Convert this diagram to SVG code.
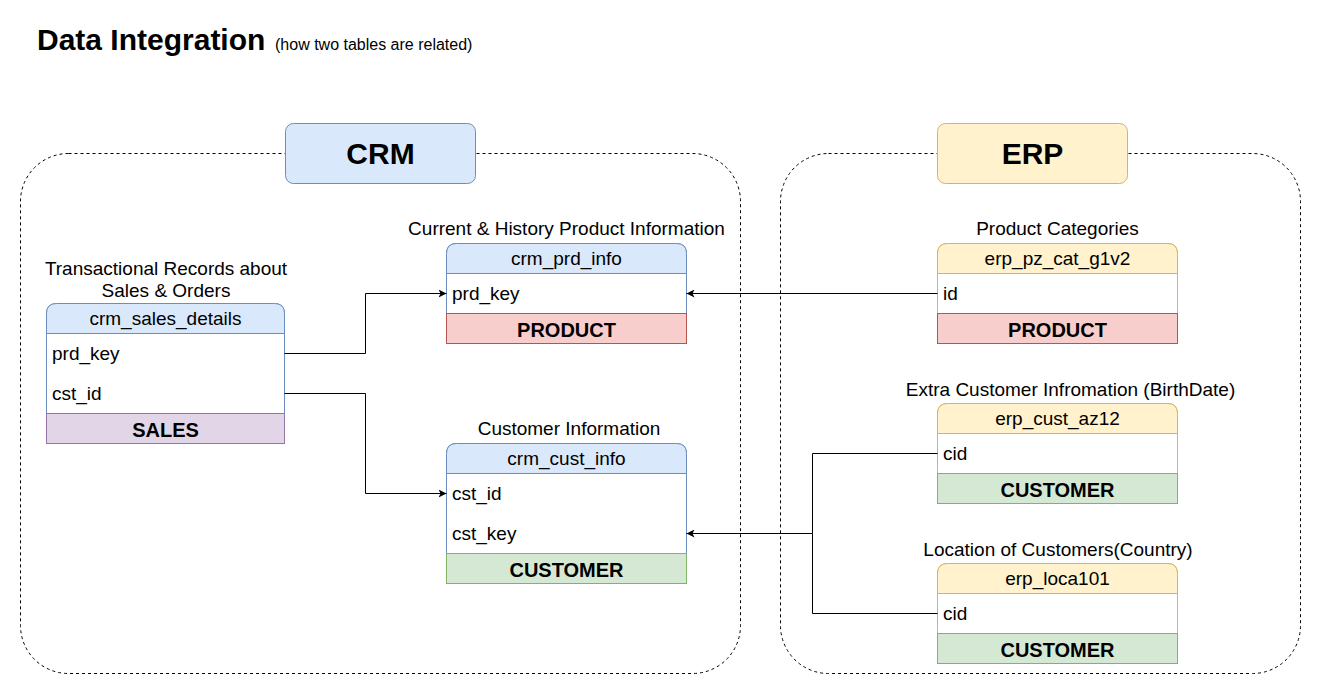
<svg xmlns="http://www.w3.org/2000/svg" width="1322" height="694" viewBox="0 0 1322 694">
<defs>
<style>
text{font-family:"Liberation Sans",Arial,Helvetica,sans-serif;fill:#000}
.t{font-size:19px}
.c{text-anchor:middle}
.f{font-size:20px;font-weight:bold;text-anchor:middle}
.big{font-size:30px;font-weight:bold;text-anchor:middle}
.cont{fill:none;stroke:#000;stroke-width:1;stroke-dasharray:3 3}
.body{fill:#fff}
.bl{stroke:#6c8ebf}
.bh{fill:#dae8fc;stroke:#6c8ebf}
.yl{stroke:#d6b656}
.yh{fill:#fff2cc;stroke:#d6b656}
.red{fill:#f8cecc;stroke:#b85450}
.grn{fill:#d5e8d4;stroke:#82b366}
.pur{fill:#e1d5e7;stroke:#9673a6}
.edge{fill:none;stroke:#000;stroke-width:1;marker-end:url(#arr)}
.line{fill:none;stroke:#000;stroke-width:1}
</style>
<marker id="arr" viewBox="0 0 8 8" markerWidth="8" markerHeight="8" refX="8" refY="4" orient="auto" markerUnits="userSpaceOnUse">
<path d="M0,0 L8,4 L0,8 L2,4 Z" fill="#000"/>
</marker>
</defs>
<rect width="1322" height="694" fill="#fff"/>

<g id="title">
<text x="37" y="50" style="font-size:30px;font-weight:bold">Data Integration</text>
<text x="275" y="50" style="font-size:16px">(how two tables are related)</text>
</g>

<g id="crm-container">
<rect class="cont" x="20.5" y="153.5" width="720" height="520" rx="48" ry="48"/>
</g>
<g id="erp-container">
<rect class="cont" x="780.5" y="153.5" width="520" height="520" rx="48" ry="48"/>
</g>

<g id="crm-label">
<rect x="285.5" y="123.5" width="190" height="60" rx="8" ry="8" class="bh"/>
<text x="380.5" y="164" class="big">CRM</text>
</g>
<g id="erp-label">
<rect x="937.5" y="123.5" width="190" height="60" rx="8" ry="8" class="yh"/>
<text x="1032.5" y="164" class="big">ERP</text>
</g>

<g id="crm_sales_details">
<text x="166" y="275" class="t c">Transactional Records about</text>
<text x="166" y="297" class="t c">Sales &amp; Orders</text>
<path d="M46.5,413.5 V313.5 Q46.5,303.5 56.5,303.5 H274.5 Q284.5,303.5 284.5,313.5 V413.5 Z" class="body bl"/>
<path d="M46.5,333.5 V313.5 Q46.5,303.5 56.5,303.5 H274.5 Q284.5,303.5 284.5,313.5 V333.5 Z" class="bh"/>
<text x="165.5" y="325" class="t c">crm_sales_details</text>
<text x="52" y="360" class="t">prd_key</text>
<text x="52" y="400" class="t">cst_id</text>
<rect x="46.5" y="413.5" width="238" height="30" class="pur"/>
<text x="165.5" y="437" class="f">SALES</text>
</g>

<g id="crm_prd_info">
<text x="566.5" y="235" class="t c">Current &amp; History Product Information</text>
<path d="M446.5,313.5 V253.5 Q446.5,243.5 456.5,243.5 H676.5 Q686.5,243.5 686.5,253.5 V313.5 Z" class="body bl"/>
<path d="M446.5,273.5 V253.5 Q446.5,243.5 456.5,243.5 H676.5 Q686.5,243.5 686.5,253.5 V273.5 Z" class="bh"/>
<text x="566.5" y="265" class="t c">crm_prd_info</text>
<text x="452" y="300" class="t">prd_key</text>
<rect x="446.5" y="313.5" width="240" height="30" class="red"/>
<text x="566.5" y="337" class="f">PRODUCT</text>
</g>

<g id="crm_cust_info">
<text x="569" y="435" class="t c">Customer Information</text>
<path d="M446.5,553.5 V453.5 Q446.5,443.5 456.5,443.5 H676.5 Q686.5,443.5 686.5,453.5 V553.5 Z" class="body bl"/>
<path d="M446.5,473.5 V453.5 Q446.5,443.5 456.5,443.5 H676.5 Q686.5,443.5 686.5,453.5 V473.5 Z" class="bh"/>
<text x="566.5" y="465" class="t c">crm_cust_info</text>
<text x="452" y="500" class="t">cst_id</text>
<text x="452" y="540" class="t">cst_key</text>
<rect x="446.5" y="553.5" width="240" height="30" class="grn"/>
<text x="566.5" y="577" class="f">CUSTOMER</text>
</g>

<g id="erp_pz_cat_g1v2">
<text x="1057.5" y="235" class="t c">Product Categories</text>
<path d="M937.5,313.5 V253.5 Q937.5,243.5 947.5,243.5 H1167.5 Q1177.5,243.5 1177.5,253.5 V313.5 Z" class="body yl"/>
<path d="M937.5,273.5 V253.5 Q937.5,243.5 947.5,243.5 H1167.5 Q1177.5,243.5 1177.5,253.5 V273.5 Z" class="yh"/>
<text x="1057.5" y="265" class="t c">erp_pz_cat_g1v2</text>
<text x="943" y="300" class="t">id</text>
<rect x="937.5" y="313.5" width="240" height="30" class="red"/>
<text x="1057.5" y="337" class="f">PRODUCT</text>
</g>

<g id="erp_cust_az12">
<text x="1070.5" y="396" class="t c">Extra Customer Infromation (BirthDate)</text>
<path d="M937.5,473.5 V413.5 Q937.5,403.5 947.5,403.5 H1167.5 Q1177.5,403.5 1177.5,413.5 V473.5 Z" class="body yl"/>
<path d="M937.5,433.5 V413.5 Q937.5,403.5 947.5,403.5 H1167.5 Q1177.5,403.5 1177.5,413.5 V433.5 Z" class="yh"/>
<text x="1057.5" y="425" class="t c">erp_cust_az12</text>
<text x="943" y="460" class="t">cid</text>
<rect x="937.5" y="473.5" width="240" height="30" class="grn"/>
<text x="1057.5" y="497" class="f">CUSTOMER</text>
</g>

<g id="erp_loca101">
<text x="1058" y="556" class="t c">Location of Customers(Country)</text>
<path d="M937.5,633.5 V573.5 Q937.5,563.5 947.5,563.5 H1167.5 Q1177.5,563.5 1177.5,573.5 V633.5 Z" class="body yl"/>
<path d="M937.5,593.5 V573.5 Q937.5,563.5 947.5,563.5 H1167.5 Q1177.5,563.5 1177.5,573.5 V593.5 Z" class="yh"/>
<text x="1057.5" y="585" class="t c">erp_loca101</text>
<text x="943" y="620" class="t">cid</text>
<rect x="937.5" y="633.5" width="240" height="30" class="grn"/>
<text x="1057.5" y="657" class="f">CUSTOMER</text>
</g>

<g id="connectors">
<path class="edge" d="M284.5,353.5 H365.5 V293.5 H446.5"/>
<path class="edge" d="M284.5,393.5 H365.5 V493.5 H446.5"/>
<path class="edge" d="M937.5,293.5 H686.5"/>
<path class="edge" d="M937.5,453.5 H812.5 V533.5 H686.5"/>
<path class="line" d="M937.5,613.5 H812.5 V533.5"/>
</g>
</svg>
